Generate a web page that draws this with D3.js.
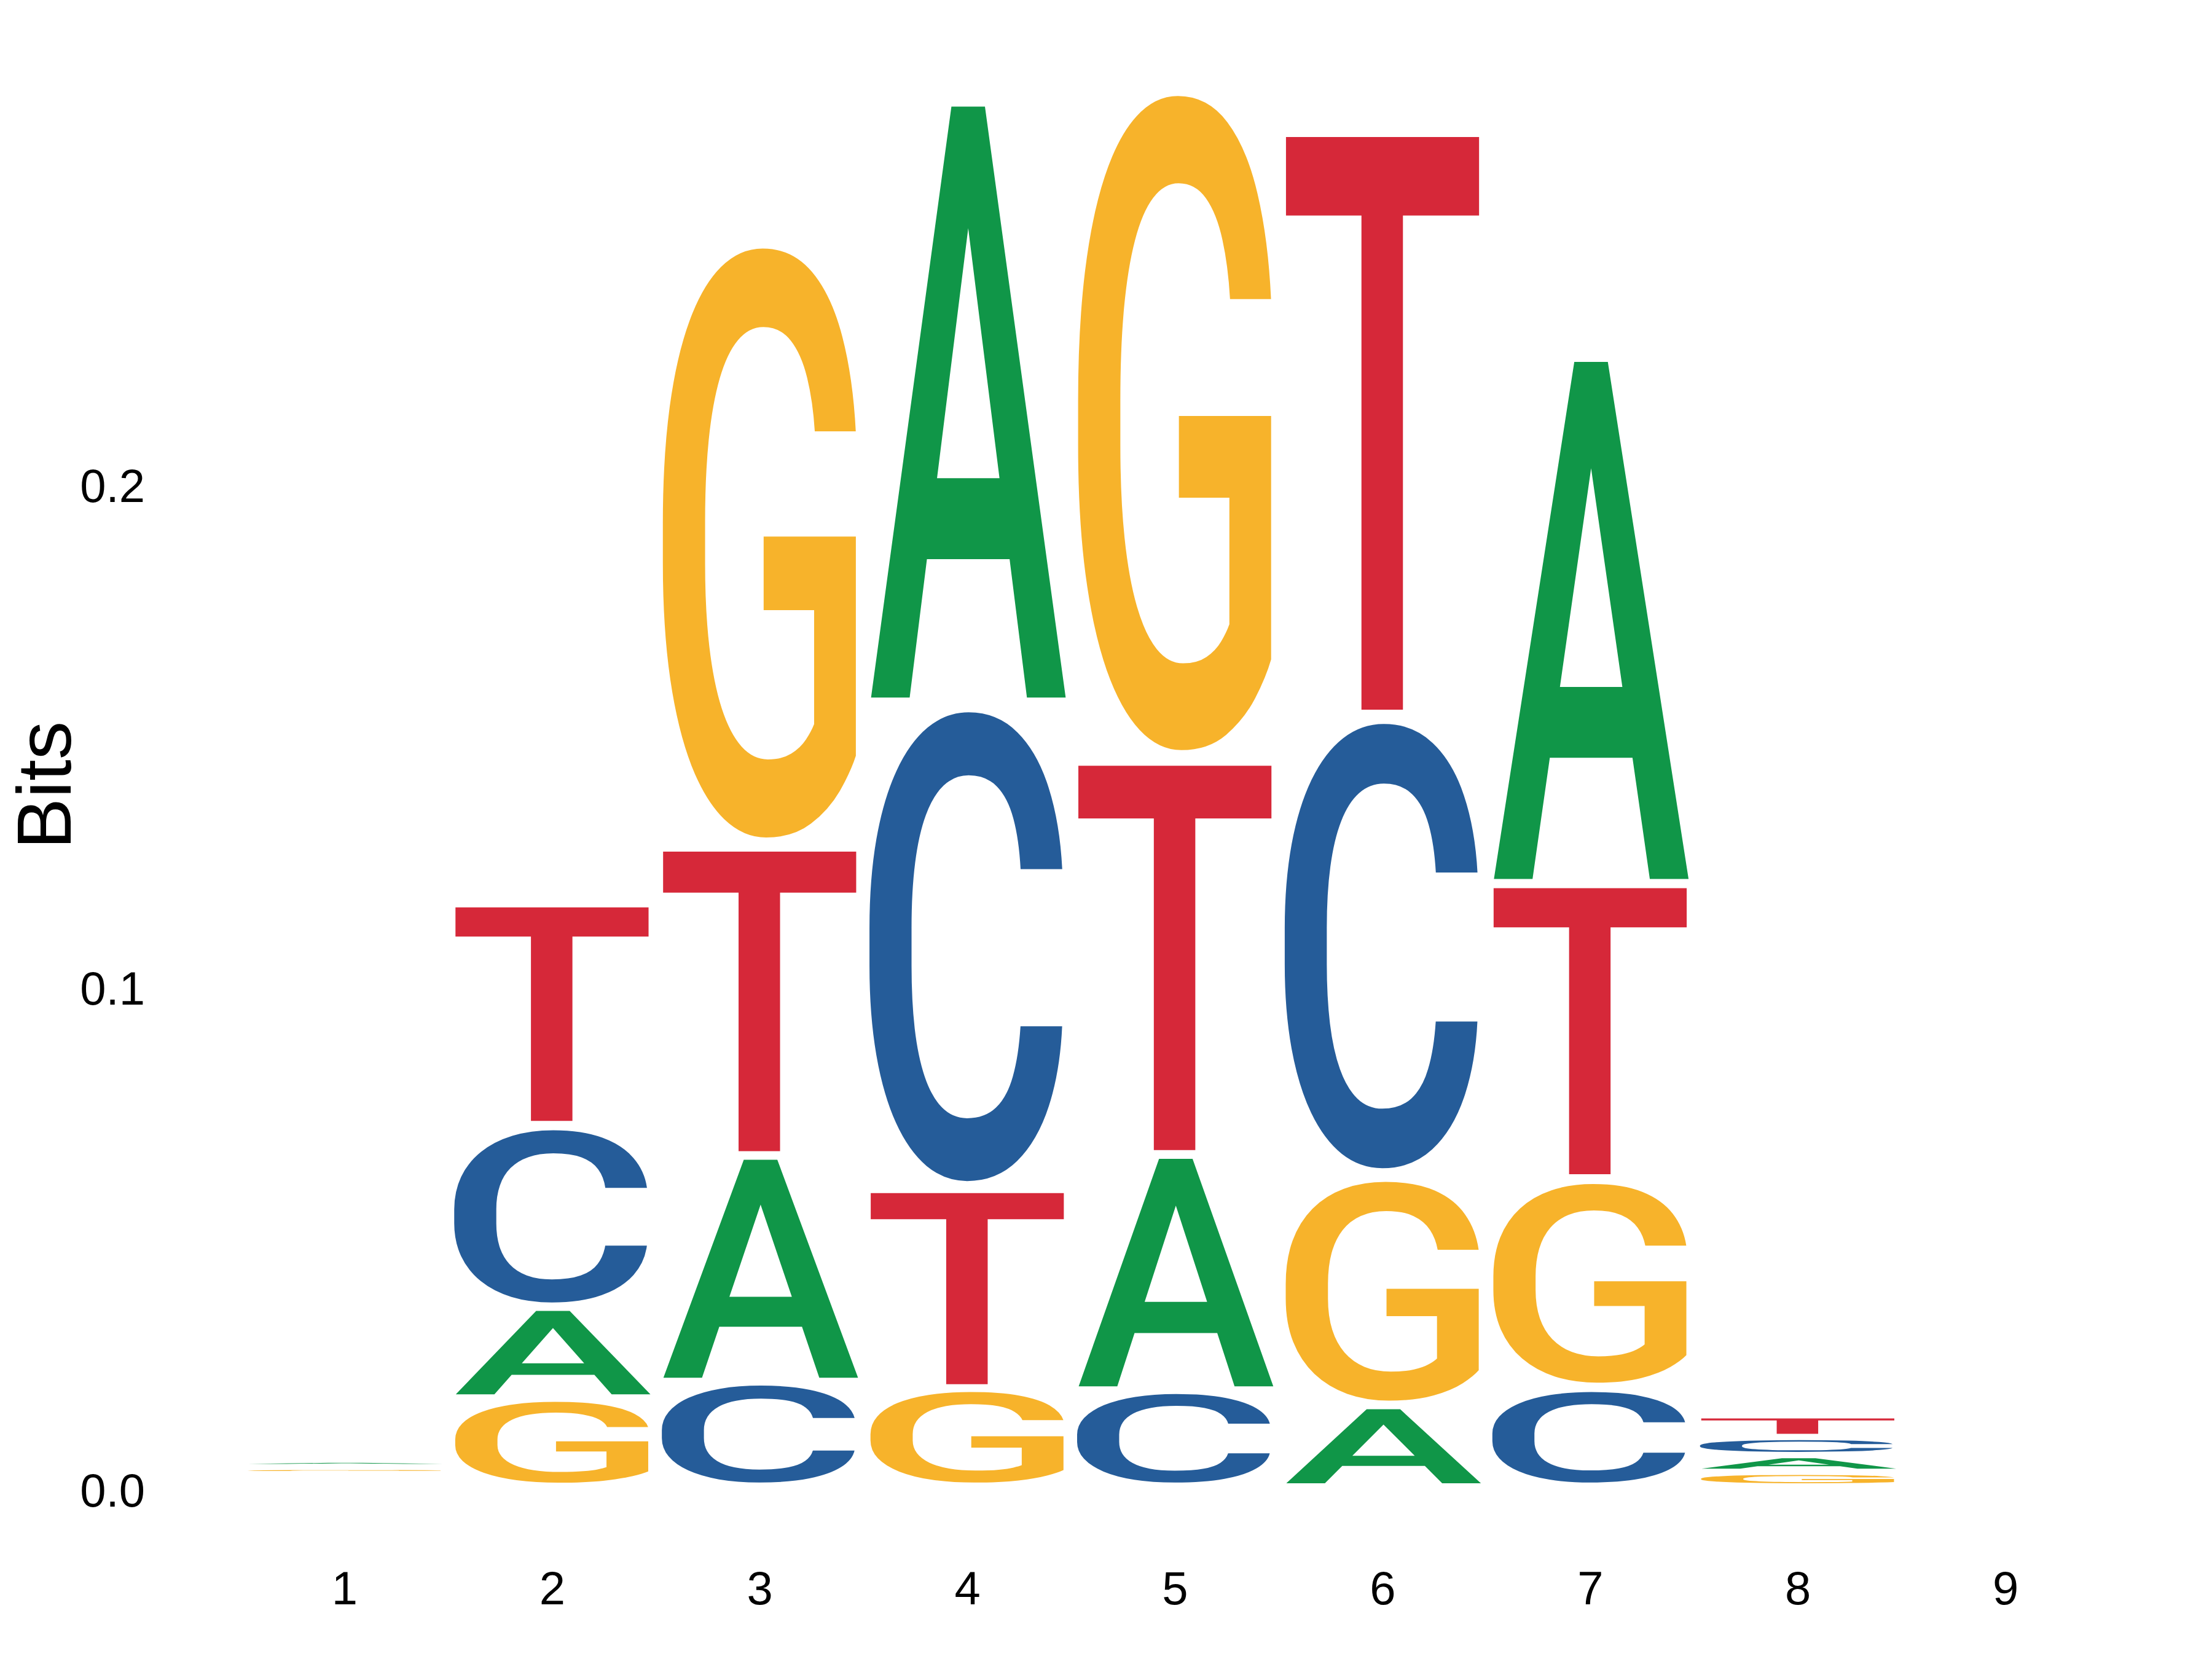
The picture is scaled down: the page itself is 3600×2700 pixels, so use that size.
<!DOCTYPE html>
<html>
<head>
<meta charset="utf-8">
<script src="https://cdn.jsdelivr.net/npm/d3@7"></script>
<style>
  body { margin: 0; background: #fff; }
  svg { display: block; }
</style>
</head>
<body>
<svg id="chart"></svg>
<script>
// Sequence logo data (bits per letter, per position)
const positions = [1, 2, 3, 4, 5, 6, 7, 8, 9];
const letters = ["A", "C", "G", "T"];
const bitsA = [0.00021, 0.0168, 0.0439, 0.1190, 0.0458, 0.0149, 0.1041, 0.0021, 0];
const bitsC = [0, 0.0352, 0.0198, 0.0958, 0.0181, 0.0908, 0.0185, 0.0024, 0];
const bitsG = [0.0002, 0.0165, 0.1204, 0.0185, 0.1337, 0.0447, 0.0406, 0.0017, 0];
const bitsT = [0, 0.0430, 0.0603, 0.0385, 0.0774, 0.1153, 0.0576, 0.0031, 0];
const yTicks = [0, 0.1, 0.2];

// nucleotide colour scheme
const colors = { A: "#109648", C: "#255C99", G: "#F7B32B", T: "#D62839" };

const width = 3600, height = 2700;
const stackWidth = 0.95;   // fraction of a column used by a letter
const spacer = 0.00122;    // small vertical gap (bits) under each letter

const svg = d3.select("#chart")
  .attr("width", width)
  .attr("height", height)
  .attr("viewBox", `0 0 ${width} ${height}`);

svg.append("rect").attr("width", width).attr("height", height).attr("fill", "#fff");

// Scales
const x = d3.scaleLinear()
  .domain([0.5, 9.5])
  .range([391.4, 3432.6]);

const y = d3.scaleLinear()
  .domain([0, 0.2])
  .range([2424, 789.5]);

// Build stacked letter boxes: smallest letter at the bottom
const bitsBy = { A: bitsA, C: bitsC, G: bitsG, T: bitsT };
const boxes = [];
positions.forEach((p, i) => {
  const col = letters.map(l => ({ letter: l, bits: bitsBy[l][i] }))
    .sort((a, b) => a.bits - b.bits);
  let acc = 0;
  col.forEach(d => {
    const y0 = acc + spacer;
    const y1 = y0 + d.bits;
    acc = y1;
    boxes.push({ pos: p, letter: d.letter, y0, y1, bits: d.bits });
  });
});

// Measure tight glyph bounds so each letter can be stretched to its box
const fontSize = 1000;
const letterFamily = 'Roboto, "Liberation Sans", Arial, sans-serif';
const letterWeight = 500;
const ctx = document.createElement("canvas").getContext("2d");
ctx.font = `${letterWeight} ${fontSize}px ${letterFamily}`;
const glyph = {};
letters.forEach(l => {
  const m = ctx.measureText(l);
  glyph[l] = {
    left: m.actualBoundingBoxLeft,
    right: m.actualBoundingBoxRight,
    ascent: m.actualBoundingBoxAscent,
    descent: m.actualBoundingBoxDescent
  };
});

const step = x(2) - x(1);

svg.append("g")
  .selectAll("text")
  .data(boxes.filter(d => d.bits > 0))
  .join("text")
  .attr("font-family", letterFamily)
  .attr("font-weight", letterWeight)
  .attr("font-size", fontSize)
  .attr("fill", d => colors[d.letter])
  .attr("transform", d => {
    const g = glyph[d.letter];
    const bx0 = x(d.pos) - step * stackWidth / 2;
    const bx1 = x(d.pos) + step * stackWidth / 2;
    const byBottom = y(d.y0);
    const byTop = y(d.y1);
    const sx = (bx1 - bx0) / (g.left + g.right);
    const sy = (byBottom - byTop) / (g.ascent + g.descent);
    const tx = bx0 + sx * g.left;
    const ty = byBottom - sy * g.descent;
    return `translate(${tx},${ty}) scale(${sx},${sy})`;
  })
  .text(d => d.letter);

// Axes (no lines, no ticks, just labels)
const labelFont = '"Liberation Sans", Arial, sans-serif';

const yAxis = svg.append("g")
  .attr("transform", "translate(236,0)")
  .call(d3.axisLeft(y).tickValues(yTicks).tickFormat(d3.format(".1f"))
    .tickSizeInner(0).tickSizeOuter(0).tickPadding(0));
yAxis.select(".domain").remove();
yAxis.selectAll("text")
  .attr("font-family", labelFont)
  .attr("font-size", 76)
  .attr("fill", "#000")
  .attr("dy", "0.36em");

const xAxis = svg.append("g")
  .attr("transform", "translate(0,2557)")
  .call(d3.axisBottom(x).tickValues(positions).tickFormat(d3.format("d"))
    .tickSizeInner(0).tickSizeOuter(0).tickPadding(0));
xAxis.select(".domain").remove();
xAxis.selectAll("text")
  .attr("font-family", labelFont)
  .attr("font-size", 76)
  .attr("fill", "#000");

// Axis title
svg.append("text")
  .attr("transform", "translate(115,1278) rotate(-90)")
  .attr("text-anchor", "middle")
  .attr("font-family", labelFont)
  .attr("font-size", 125)
  .attr("fill", "#000")
  .text("Bits");
</script>
</body>
</html>
